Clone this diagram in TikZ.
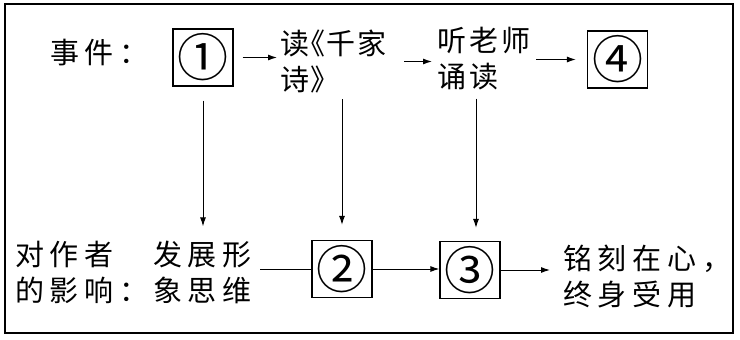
\documentclass[tikz,border=0pt]{standalone}
\usepackage{fontspec}
\setmainfont{Noto Sans CJK SC}
\usetikzlibrary{arrows.meta}

\begin{document}
\begin{tikzpicture}[
    x=1pt, y=-1pt,
    every node/.style={inner sep=0pt},
    label text/.style={font=\fontsize{29}{36}\selectfont\addfontfeature{#1}, align=left, anchor=west},
    label text/.default={LetterSpace=20},
    num box/.style={draw, line width=1.3pt, minimum width=60pt, minimum height=57pt, font=\fontsize{51}{51}\selectfont},
    flow arrow/.style={line width=1pt, -{Latex[length=9pt,width=6pt]}},
    flow line/.style={line width=1pt}
]
    \useasboundingbox (0,0) rectangle (740,340);

    % Frame
    \draw[line width=1.6pt] (5,4) rectangle (733,333);

    % Events row
    \node[label text] (event) at (50,53) {事件：};
    \node[num box] (n1) at (203,57.5) {①};
    \node[label text={LetterSpace=5,RawFeature=+halt}] (poem) at (280,61.5) {读《千家\\诗》};
    \node[label text={LetterSpace=10}] (teacher) at (437,59) {听老师\\诵读};
    \node[num box] (n4) at (617.5,59.5) {④};

    % Effects row
    \node[label text] (effect) at (15,272) {对作者\\的影响：};
    \node[label text] (think) at (153,272) {发展形\\象思维};
    \node[num box] (n2) at (342,269) {②};
    \node[num box] (n3) at (470,270) {③};
    \node[label text] (result) at (563,277) {铭刻在心，\\终身受用};
    \coordinate (n3 top) at ([xshift=6pt]n3.north);

    % Arrows along the events
    \draw[flow arrow, shorten <=9pt, shorten >=3pt] (n1.east) -- (n1.east -| poem.west);
    \draw[flow arrow, shorten <=18pt, shorten >=5pt] (poem.east) -- (poem.east -| teacher.west);
    \draw[flow arrow, shorten <=6pt, shorten >=11pt] (teacher.east |- n4.west) -- (n4.west);

    % Arrows down to the effects
    \draw[flow arrow, shorten <=14pt, shorten >=14pt] (n1.south) -- (n1.south |- think.north);
    \draw[flow arrow, shorten <=6pt, shorten >=15pt] (n2.north |- poem.south) -- (n2.north);
    \draw[flow arrow, shorten <=8pt, shorten >=13pt] (n3 top |- teacher.south) -- (n3 top);

    % Arrows along the effects
    \draw[flow line, shorten <=8pt] (think.east |- n2.west) -- (n2.west);
    \draw[flow arrow] (n2.east) -- (n2.east -| n3.west);
    \draw[flow arrow, shorten >=13pt] (n3.east) -- (n3.east -| result.west);
\end{tikzpicture}
\end{document}
